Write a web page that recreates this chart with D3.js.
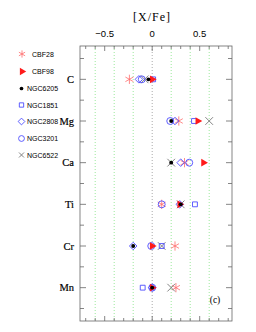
<!DOCTYPE html>
<html>
<head>
<meta charset="utf-8">
<script src="https://cdn.jsdelivr.net/npm/d3@7"></script>
<style>
  body { margin: 0; background: #fff; }
  svg { display: block; }
</style>
</head>
<body>
<div id="chart"></div>
<script>
// Elements (rows) and abundance ratios [X/Fe] per source, in element order.
var elements = ['C', 'Mg', 'Ca', 'Ti', 'Cr', 'Mn'];
var cbf28   = [-0.24, 0.28, 0.34, 0.10, 0.24, 0.25];
var cbf98   = [0.00, 0.48, 0.54, 0.29, 0.00, 0.00];
var ngc6205 = [-0.04, 0.20, 0.20, 0.30, -0.20, 0.00];
var ngc1851 = [0.01, 0.44, null, 0.45, 0.10, -0.10];
var ngc2808 = [-0.14, 0.24, 0.30, 0.29, -0.20, 0.00];
var ngc3201 = [-0.11, 0.19, 0.39, 0.10, -0.01, 0.00];
var ngc6522 = [-0.08, 0.60, 0.20, 0.30, 0.10, 0.20];
var xTicks = [-0.5, 0, 0.5];

var W = 256, H = 332;
var svg = d3.select('#chart').append('svg').attr('width', W).attr('height', H);

var x = d3.scaleLinear().domain([-0.76, 0.84]).range([80, 232]);
var y = d3.scaleLinear().domain([0.2, 6.8]).range([46, 321]);

var frameCol = '#666';

// Grid lines
var gridVals = [-0.6, -0.4, -0.2, 0, 0.2, 0.4, 0.6];
svg.append('g').selectAll('line').data(gridVals).enter().append('line')
    .attr('x1', function (d) { return x(d); })
    .attr('x2', function (d) { return x(d); })
    .attr('y1', y(0.2)).attr('y2', y(6.8))
    .attr('stroke', function (d) { return d === 0 ? '#aaa' : '#9be89b'; })
    .attr('stroke-width', 1)
    .attr('stroke-dasharray', '1,2');

// Axes (ticks pointing inward)
var minorX = d3.range(-7, 9).map(function (i) { return i / 10; });
var minorY = d3.range(1, 14).map(function (i) { return i / 2; });

function tickLen(v, step) {
    return Math.abs(v / step - Math.round(v / step)) < 1e-6 ? 5 : 3;
}

var ax = svg.append('g').attr('stroke', frameCol).attr('stroke-width', 0.8);
ax.append('rect').attr('x', x.range()[0]).attr('y', y.range()[0])
    .attr('width', x.range()[1] - x.range()[0])
    .attr('height', y.range()[1] - y.range()[0])
    .attr('fill', 'none');
minorX.forEach(function (v) {
    var l = tickLen(v, 0.5);
    ax.append('line').attr('x1', x(v)).attr('x2', x(v)).attr('y1', y(0.2)).attr('y2', y(0.2) + l);
    ax.append('line').attr('x1', x(v)).attr('x2', x(v)).attr('y1', y(6.8)).attr('y2', y(6.8) - l);
});
minorY.forEach(function (v) {
    var l = tickLen(v, 1) + 1;
    ax.append('line').attr('y1', y(v)).attr('y2', y(v)).attr('x1', x(-0.76)).attr('x2', x(-0.76) + l);
    ax.append('line').attr('y1', y(v)).attr('y2', y(v)).attr('x1', x(0.84)).attr('x2', x(0.84) - l);
});

// Top tick labels
svg.append('g').selectAll('text').data(xTicks).enter().append('text')
    .attr('x', function (d) { return x(d); })
    .attr('y', 37)
    .attr('text-anchor', 'middle')
    .attr('font-family', 'Liberation Sans, Arial, sans-serif')
    .attr('font-size', 9.5)
    .text(function (d) { return d < 0 ? '\u2212' + Math.abs(d) : String(d); });

svg.append('text').attr('x', 152).attr('y', 21)
    .attr('text-anchor', 'middle')
    .attr('font-family', 'Liberation Serif, Times New Roman, serif')
    .attr('font-size', 12).attr('letter-spacing', 1)
    .text('[X/Fe]');

// Row labels
svg.append('g').selectAll('text').data(elements).enter().append('text')
    .attr('x', 74)
    .attr('y', function (d, i) { return y(i + 1) + 3.5; })
    .attr('text-anchor', 'end')
    .attr('font-family', 'Liberation Serif, Times New Roman, serif')
    .attr('font-size', 10.5)
    .attr('stroke', '#000').attr('stroke-width', 0.2)
    .text(function (d) { return d; });

svg.append('text').attr('x', 215).attr('y', 303)
    .attr('text-anchor', 'middle')
    .attr('font-family', 'Liberation Serif, Times New Roman, serif')
    .attr('font-size', 9.5)
    .text('(c)');

// Series definitions: draw order
var series = [
    {name: 'CBF28', vals: cbf28, type: d3.symbolAsterisk, size: 60, fill: 'none', stroke: '#ff6b6b', sw: 0.8, rot: 0, leg: 0.6},
    {name: 'NGC6522', vals: ngc6522, type: d3.symbolX, size: 40, fill: 'none', stroke: '#777', sw: 0.9, rot: 0, leg: 0.45},
    {name: 'NGC1851', vals: ngc1851, type: d3.symbolSquare2, size: 30, fill: 'none', stroke: '#4d4dff', sw: 0.9, rot: 0, leg: 0.8},
    {name: 'NGC2808', vals: ngc2808, type: d3.symbolDiamond2, size: 36, fill: 'none', stroke: '#4d4dff', sw: 0.9, rot: 0, leg: 0.8},
    {name: 'NGC3201', vals: ngc3201, type: d3.symbolCircle, size: 38, fill: 'none', stroke: '#4d4dff', sw: 0.9, rot: 0, leg: 0.7},
    {name: 'CBF98', vals: cbf98, type: d3.symbolTriangle, size: 26, fill: '#ff1a1a', stroke: 'none', sw: 0, rot: 90, leg: 0.9},
    {name: 'NGC6205', vals: ngc6205, type: d3.symbolCircle, size: 12, fill: '#000', stroke: 'none', sw: 0, rot: 0, leg: 0.9}
];

var pts = svg.append('g');
series.forEach(function (s) {
    var sym = d3.symbol().type(s.type).size(s.size);
    var data = s.vals.map(function (v, i) { return {v: v, i: i}; })
        .filter(function (d) { return d.v !== null; });
    pts.append('g').selectAll('path').data(data).enter().append('path')
        .attr('d', sym)
        .attr('transform', function (d) {
            return 'translate(' + x(d.v) + ',' + y(d.i + 1) + ') rotate(' + s.rot + ')';
        })
        .attr('fill', s.fill)
        .attr('stroke', s.stroke)
        .attr('stroke-width', s.sw);
});

// Legend
var legendOrder = ['CBF28', 'CBF98', 'NGC6205', 'NGC1851', 'NGC2808', 'NGC3201', 'NGC6522'];
var legendY = [54, 71.5, 88.5, 105, 121.5, 138.5, 155];
var lg = svg.append('g');
legendOrder.forEach(function (name, k) {
    var s = series.filter(function (d) { return d.name === name; })[0];
    var big = name.indexOf('CBF') === 0;
    var sx = big ? 22 : 21.5;
    lg.append('path')
        .attr('d', d3.symbol().type(s.type).size(s.size * s.leg))
        .attr('transform', 'translate(' + sx + ',' + legendY[k] + ') rotate(' + s.rot + ')')
        .attr('fill', s.fill)
        .attr('stroke', s.stroke)
        .attr('stroke-width', s.sw);
    lg.append('text')
        .attr('x', big ? 32 : 27)
        .attr('y', legendY[k] + 2.5)
        .attr('font-family', 'Liberation Sans, Arial, sans-serif')
        .attr('font-size', 7)
        .text(name);
});
</script>
</body>
</html>
